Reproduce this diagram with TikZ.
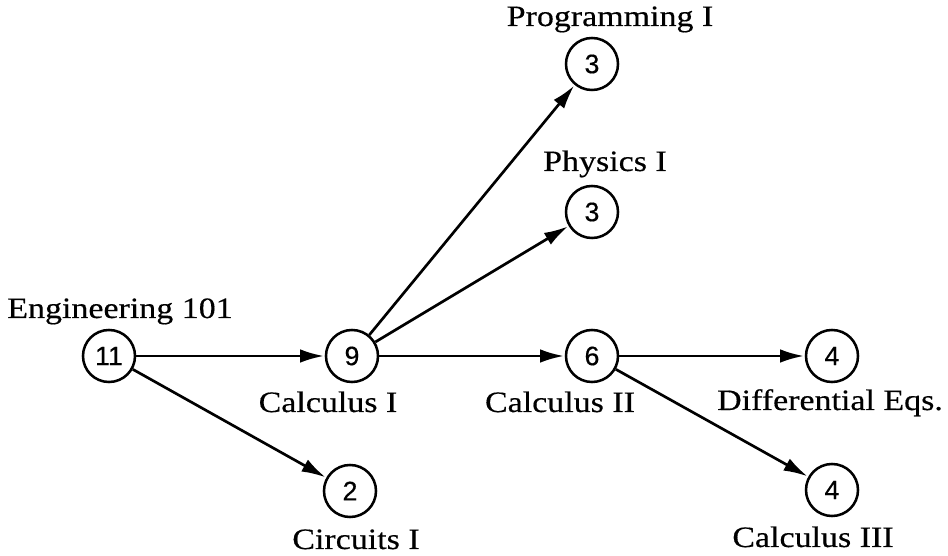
\documentclass[tikz,border=0pt]{standalone}
\usepackage{fontspec}
\setmainfont[FakeStretch=1.15,FakeBold=0.4]{Liberation Serif}
\newfontfamily\numfont[FakeBold=0.4]{Liberation Sans}
\usetikzlibrary{positioning,arrows.meta}

\begin{document}
\begin{tikzpicture}[x=0.025cm,y=-0.025cm,
  course/.style={draw,circle,line width=1.8pt,minimum size=1.3cm,inner sep=0pt,font=\numfont\fontsize{19}{19}\selectfont},
  lbl/.style={anchor=base,inner sep=0pt,font=\fontsize{21}{25}\selectfont},
  prereq/.style={-{Latex[length=6mm,width=3.4mm]},line width=1.9pt,shorten >=0.5pt}]
\useasboundingbox (0,0) rectangle (948,556);
% courses
\node[course] (eng) at (109,356) {11};
\node[course] (calcA) at (352,356) {9};
\node[course] (calcB) at (592,356) {6};
\node[course] (diffeq) at (832,356) {4};
\node[course] (circ) at (350,491) {2};
\node[course] (calcC) at (832,490) {4};
\node[course] (phys) at (592,212) {3};
\node[course] (prog) at (592,64) {3};
% names
\node[lbl] (engL) at (120,318) {Engineering 101};
\node[lbl] (calcAL) at (328,412) {Calculus I};
\node[lbl] (calcBL) at (560,412) {Calculus II};
\node[lbl] (diffeqL) at (830,410) {Differential Eqs.};
\node[lbl] (circL) at (356,549) {Circuits I};
\node[lbl] (calcCL) at (813,547) {Calculus III};
\node[lbl] (physL) at (605,171) {Physics I};
\node[lbl] (progL) at (610,26) {Programming I};
% prerequisites
\draw[prereq] (eng) -- (calcA);
\draw[prereq] (eng) -- (circ);
\draw[prereq] (calcA) -- (prog);
\draw[prereq] (calcA) -- (phys);
\draw[prereq] (calcA) -- (calcB);
\draw[prereq] (calcB) -- (diffeq);
\draw[prereq] (calcB) -- (calcC);
\end{tikzpicture}
\end{document}
